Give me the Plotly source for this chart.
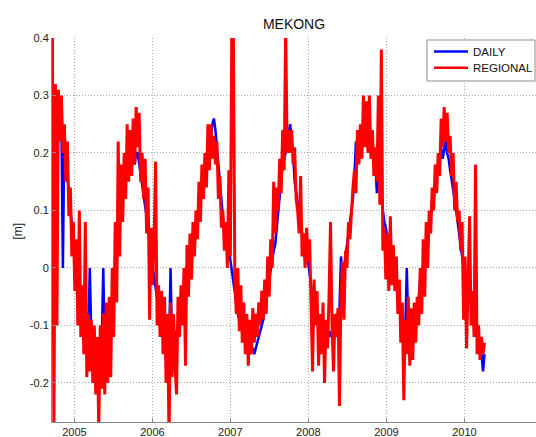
import pandas as pd
import plotly.graph_objects as go

# weekly samples starting 2004-09-20
start_date = "2004-09-20"
daily = [
 0.30,0.29,0.30,0.28,0.27,0.27,0.25,0.00,0.24,0.18,
 0.16,0.13,0.10,0.07,0.04,0.02,0.00,-0.02,-0.04,-0.06,
 -0.09,-0.10,-0.11,-0.12,-0.11,0.00,-0.12,-0.11,-0.13,-0.14,
 -0.13,-0.15,-0.14,-0.13,0.00,-0.14,-0.13,-0.12,-0.10,-0.08,
 -0.06,-0.03,-0.01,0.02,0.05,0.08,0.10,0.12,0.14,0.15,
 0.16,0.17,0.17,0.18,0.19,0.18,0.20,0.20,0.18,0.16,
 0.15,0.13,0.11,0.09,0.07,0.04,0.02,0.00,-0.02,-0.04,
 -0.06,-0.08,-0.09,-0.10,-0.11,-0.12,-0.13,-0.12,-0.14,0.00,
 -0.13,-0.12,-0.13,-0.11,-0.10,-0.09,-0.08,-0.06,-0.05,-0.04,
 -0.03,-0.01,0.00,0.01,0.03,0.04,0.06,0.08,0.10,0.12,
 0.14,0.15,0.17,0.18,0.19,0.21,0.23,0.25,0.26,0.24,
 0.21,0.18,0.15,0.11,0.08,0.06,0.07,0.05,0.04,0.02,
 0.00,-0.02,-0.04,-0.06,-0.08,-0.09,-0.10,-0.11,-0.12,-0.13,
 -0.14,-0.14,-0.15,-0.14,-0.14,-0.15,-0.14,-0.13,-0.12,-0.11,
 -0.10,-0.09,-0.07,-0.05,-0.04,-0.02,0.00,0.02,0.03,0.04,
 0.07,0.10,0.13,0.15,0.18,0.19,0.20,0.22,0.24,0.25,
 0.22,0.20,0.15,0.13,0.11,0.09,0.08,0.06,0.05,0.04,
 0.03,0.01,-0.01,-0.03,-0.05,-0.06,-0.07,-0.08,-0.09,-0.10,
 -0.11,-0.12,-0.13,-0.12,-0.12,-0.11,-0.12,-0.11,-0.10,-0.09,
 -0.08,-0.09,-0.07,0.02,-0.03,0.00,0.02,0.04,0.06,0.08,
 0.10,0.12,0.16,0.22,0.19,0.20,0.21,0.22,0.22,0.23,
 0.22,0.22,0.21,0.22,0.21,0.20,0.18,0.13,0.16,0.14,
 0.12,0.09,0.08,0.07,0.05,0.03,0.02,0.01,0.00,-0.02,
 -0.03,-0.05,-0.07,-0.09,-0.10,-0.10,-0.11,0.00,-0.10,-0.11,
 -0.12,-0.11,-0.10,-0.09,-0.08,-0.05,-0.02,-0.01,0.00,0.01,
 0.02,0.04,0.07,0.09,0.11,0.12,0.14,0.16,0.18,0.20,
 0.21,0.19,0.21,0.22,0.20,0.19,0.17,0.15,0.14,0.12,
 0.10,0.08,0.06,0.04,0.02,0.00,-0.01,-0.02,-0.03,-0.05,
 -0.06,-0.07,-0.09,-0.10,-0.11,-0.12,-0.13,-0.15,-0.18,-0.15,
]
regional = [
 0.40,-0.30,0.32,-0.10,0.31,0.22,0.30,0.20,0.25,0.15,
 0.22,0.09,0.14,0.02,0.08,-0.04,0.05,-0.10,0.10,-0.12,
 -0.03,-0.15,0.08,-0.19,-0.08,-0.18,-0.09,-0.20,-0.10,-0.22,
 -0.12,-0.28,-0.10,-0.21,-0.08,-0.22,-0.06,-0.20,-0.05,-0.19,
 0.00,-0.12,0.08,-0.06,0.22,0.02,0.18,0.08,0.20,0.12,
 0.25,0.15,0.24,0.16,0.26,0.18,0.28,0.21,0.27,0.15,
 0.20,0.12,0.19,0.06,0.14,-0.09,0.07,-0.03,0.05,0.185,
 -0.10,-0.03,-0.12,-0.04,-0.15,-0.05,-0.20,-0.08,-0.30,-0.06,
 -0.19,-0.08,-0.17,-0.22,-0.05,-0.12,-0.03,-0.10,0.00,-0.17,
 0.04,-0.05,0.06,-0.02,0.08,0.02,0.10,0.05,0.15,0.08,
 0.18,0.12,0.20,0.14,0.25,0.17,0.25,0.19,0.23,0.18,
 0.22,0.12,0.16,0.07,0.10,0.03,0.08,0.00,0.17,0.02,
 0.42,0.42,-0.02,-0.08,0.00,-0.11,-0.03,-0.13,-0.06,-0.15,
 -0.08,-0.17,-0.09,-0.15,-0.07,-0.13,-0.08,-0.12,-0.06,-0.10,
 -0.04,-0.09,-0.02,-0.08,0.02,-0.05,0.05,0.00,0.15,0.06,
 0.14,0.10,0.19,0.13,0.24,0.17,0.42,0.20,0.24,0.20,
 0.24,0.18,0.21,0.12,0.10,0.06,0.16,0.02,0.06,0.00,
 0.07,0.01,0.05,-0.06,-0.18,-0.02,-0.10,-0.04,-0.17,-0.08,
 -0.15,-0.06,-0.20,-0.09,-0.14,-0.05,0.08,-0.10,-0.18,-0.08,
 -0.12,-0.07,-0.24,-0.05,0.01,-0.09,0.03,0.00,0.08,0.05,
 0.10,0.14,0.17,0.13,0.24,0.18,0.25,0.19,0.30,0.21,
 0.29,0.20,0.30,0.19,0.24,0.16,0.21,0.15,0.30,0.11,
 0.38,0.03,0.07,-0.02,0.06,-0.04,0.09,-0.03,0.04,-0.04,
 0.02,-0.08,-0.02,-0.13,-0.06,-0.23,-0.09,-0.15,-0.05,-0.17,
 -0.07,-0.16,-0.06,-0.13,-0.05,-0.10,0.00,-0.08,0.05,-0.05,
 0.08,0.00,0.10,0.06,0.14,0.10,0.18,0.13,0.20,0.16,
 0.26,0.21,0.28,0.22,0.27,0.20,0.23,0.16,0.20,0.10,
 0.15,0.08,0.10,0.03,0.08,-0.09,0.02,-0.14,-0.03,0.09,
 -0.10,-0.04,-0.12,0.18,-0.15,-0.10,-0.16,-0.12,-0.15,-0.13,
]
series_names = ["DAILY", "REGIONAL"]
series_colors = ["#0000ff", "#ff0000"]
year_ticks = ["2005-01-01", "2006-01-01", "2007-01-01", "2008-01-01", "2009-01-01", "2010-01-01"]
year_labels = ["2005", "2006", "2007", "2008", "2009", "2010"]
y_ticks = [-0.2, -0.1, 0, 0.1, 0.2, 0.3, 0.4]
y_labels = ["-0.2", "-0.1", "0", "0.1", "0.2", "0.3", "0.4"]

dates = pd.date_range(start_date, periods=len(daily), freq="7D")

W, H = 536, 437
ML, MR, MT, MB = 52, 0, 38, 15
PW, PH = W - ML - MR, H - MT - MB


def px(x):
    return (x - ML) / PW


def py(y):
    return (H - MB - y) / PH


fig = go.Figure()
fig.add_trace(go.Scatter(x=dates, y=daily, mode="lines", name=series_names[0],
                         line=dict(color=series_colors[0], width=2.5), showlegend=False))
fig.add_trace(go.Scatter(x=dates[:len(regional)], y=regional, mode="lines", name=series_names[1],
                         line=dict(color=series_colors[1], width=3), showlegend=False))

font = "Liberation Sans, Arial, Helvetica, sans-serif"

# legend drawn by hand (MATLAB-style compact box)
shapes = [dict(type="rect", xref="paper", yref="paper",
               x0=px(427), x1=px(535), y0=py(81), y1=py(40),
               fillcolor="white", line=dict(color="#8c8c8c", width=1), layer="above")]
annotations = [dict(text="[m]", x=px(17.5), y=py(231), xref="paper", yref="paper",
                    xanchor="center", yanchor="middle", textangle=-90, showarrow=False,
                    font=dict(family=font, size=12, color="#222222"))]
for k, (name, col) in enumerate(zip(series_names, series_colors)):
    yy = 51.5 + 16.3 * k
    shapes.append(dict(type="line", xref="paper", yref="paper",
                       x0=px(434), x1=px(468), y0=py(yy), y1=py(yy),
                       line=dict(color=col, width=2.5), layer="above"))
    annotations.append(dict(text=name, x=px(470.5), y=py(yy), xref="paper", yref="paper",
                            xanchor="left", yanchor="middle", showarrow=False,
                            font=dict(family=font, size=11.5, color="#111111")))

fig.update_layout(
    width=W, height=H,
    margin=dict(l=ML, r=MR, t=MT, b=MB),
    paper_bgcolor="white", plot_bgcolor="white",
    font=dict(family=font, size=11, color="#222222"),
    title=dict(text="MEKONG", x=px(294), xref="paper", xanchor="center",
               y=1 - 24 / H, yref="container", yanchor="middle",
               font=dict(family=font, size=14, color="#111111")),
    showlegend=False,
    shapes=shapes,
    annotations=annotations,
)
fig.update_xaxes(
    range=["2004-09-18", "2010-12-02"],
    tickvals=year_ticks, ticktext=year_labels,
    showgrid=True, gridcolor="#a8a8a8", griddash="1px,2px", gridwidth=1,
    showline=True, linecolor="#888888", linewidth=1,
    ticks="inside", ticklen=4, tickcolor="#888888",
    zeroline=False, automargin=False,
)
fig.update_yaxes(
    range=[-0.268, 0.4],
    tickvals=y_ticks, ticktext=y_labels,
    showgrid=True, gridcolor="#a8a8a8", griddash="1px,2px", gridwidth=1,
    showline=True, linecolor="#888888", linewidth=1,
    ticks="inside", ticklen=4, tickcolor="#888888",
    zeroline=False, automargin=False,
)
fig.write_html("out.html", config={"displayModeBar": False},
               post_script="document.body.style.margin='0';document.body.style.padding='0';")
